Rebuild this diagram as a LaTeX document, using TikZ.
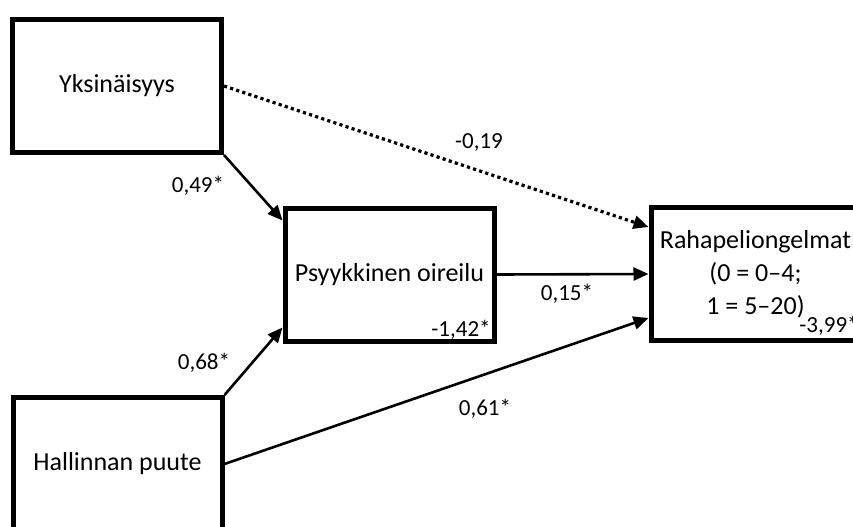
\documentclass[tikz,border=0pt]{standalone}
\usepackage{fontspec}
\setmainfont{Carlito}
\usetikzlibrary{positioning}
\usetikzlibrary{arrows.meta}

\begin{document}
\begin{tikzpicture}
  [x = 0.5pt, y = -0.5pt,
   box/.style = {rectangle, draw, line width = 2.5pt, minimum width = 104.5pt,
     minimum height = 66.5pt, align = center, font = \fontsize{13}{16.5}\selectfont},
   coef/.style = {inner sep = 0pt, anchor = base, font = \fontsize{11.5}{14}\selectfont},
   path/.style = {line width = 1.3pt, -{Triangle[length = 7.5pt, width = 6.5pt]}}]
  \useasboundingbox (0, 0) rectangle (853, 526);

  \node [box] (yks) at (117, 86) {Yksinäisyys};
  \node [box] (hal) at (117.5, 464) {Hallinnan puute};
  \node [box] (psy) at (389.5, 274.5) {Psyykkinen oireilu};
  \node [box] (rah) at (755.5, 274) {Rahapeliongelmat\\(0 = 0–4;\\1 = 5–20)};

  \node [coef] (yksrah) at (479, 148) {-0,19};
  \node [coef] (ykspsy) at (198, 192) {0,49*};
  \node [coef] (halpsy) at (204, 369) {0,68*};
  \node [coef] (psyrah) at (567, 300) {0,15*};
  \node [coef] (halrah) at (485, 415) {0,61*};
  \node [coef, anchor = base east] (psyres) at (491, 336) {-1,42*};
  \node [coef, anchor = base west] (rahres) at (799, 332) {-3,99*};

  \draw [path] (yks.south east) -- ([yshift = -7.5pt]psy.north west);
  \draw [path] (hal.north east) -- ([yshift = 8pt]psy.south west);
  \draw [path, line width = 1.6pt, dash pattern = on 1.6pt off 1.6pt] (yks.east) -- ([yshift = -11pt]rah.north west);
  \draw [path] (psy.east) -- (rah.west);
  \draw [path] (hal.east) -- ([yshift = 12.5pt]rah.south west);
\end{tikzpicture}
\end{document}
